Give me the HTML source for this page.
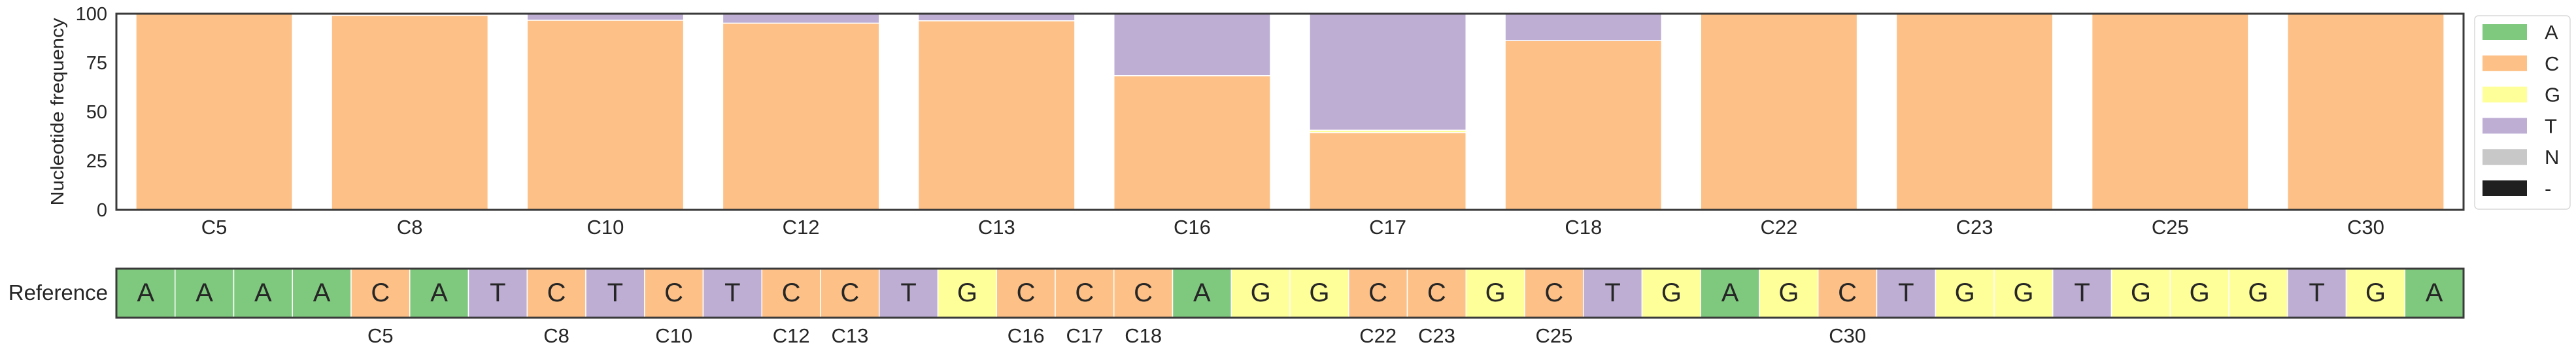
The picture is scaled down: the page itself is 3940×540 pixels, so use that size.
<!DOCTYPE html>
<html><head><meta charset="utf-8"><style>
html,body{margin:0;padding:0;background:#fff;}
svg{display:block;font-family:"Liberation Sans",Arial,sans-serif;}
</style></head><body>
<svg id="chart" width="3940" height="540" viewBox="0 0 3940 540" xmlns="http://www.w3.org/2000/svg">
<g id="bars"></g>
<g id="axes"></g>
<g id="ref"></g>
<g id="legend"></g>
</svg>
<script>
const categories = ["C5","C8","C10","C12","C13","C16","C17","C18","C22","C23","C25","C30"];
const valsA = [0,0,0,0,0,0,0,0,0,0,0,0];
const valsC = [100,99.2,96.7,95.2,96.4,68.4,39.4,86.3,100,100,100,100];
const valsG = [0,0,0,0,0,0,1.2,0,0,0,0,0];
const valsT = [0,0.8,3.3,4.8,3.6,31.6,59.4,13.7,0,0,0,0];
const valsN = [0,0,0,0,0,0,0,0,0,0,0,0];
const valsGap = [0,0,0,0,0,0,0,0,0,0,0,0];
const yTicks = [0,25,50,75,100];
const refSeq = ["A","A","A","A","C","A","T","C","T","C","T","C","C","T","G","C","C","C","A","G","G","C","C","G","C","T","G","A","G","C","T","G","G","T","G","G","G","T","G","A"];
const refPositions = [5,8,10,12,13,16,17,18,22,23,25,30];
const legendLabels = ["A","C","G","T","N","-"];

const colors = {A:"#7fc97f",C:"#fdc086",G:"#ffff99",T:"#beaed4",N:"#c8c8c8","-":"#1f1f1f"};
const series = [["A",valsA],["C",valsC],["G",valsG],["T",valsT],["N",valsN],["-",valsGap]];
const NS="http://www.w3.org/2000/svg";
const X0=178,X1=3768,Y0=321,Y1=21;
const slot=(X1-X0)/categories.length;
const xC=i=>X0+slot*(i+0.5);
const y=v=>Y0-(v/100)*(Y0-Y1);
function mk(tag,attrs,parent,text){const e=document.createElementNS(NS,tag);for(const k in attrs)e.setAttribute(k,attrs[k]);if(text!==undefined)e.textContent=text;parent.appendChild(e);return e;}
const gb=document.getElementById('bars'),ga=document.getElementById('axes'),gr=document.getElementById('ref'),gl=document.getElementById('legend');
categories.forEach((c,i)=>{
  let cum=0;const bw=slot*0.8;
  series.forEach(([nt,arr])=>{
    const v=arr[i];if(v<=0)return;
    const r=mk('rect',{x:xC(i)-bw/2,y:y(cum+v),width:bw,height:y(cum)-y(cum+v),fill:colors[nt],stroke:"#fff","stroke-width":1.5},gb);
    
    
    cum+=v;
  });
  const t=mk('text',{x:xC(i),y:358,"font-size":31,fill:"#262626","text-anchor":"middle"},ga,c);
  
  
});
const frame=mk('rect',{x:X0,y:Y1,width:X1-X0,height:Y0-Y1,fill:"none",stroke:"#3a3a3a","stroke-width":3},ga);


yTicks.forEach(v=>{
  const t=mk('text',{x:164,y:y(v)+10,"font-size":29,fill:"#262626","text-anchor":"end"},ga,String(v));
  
  
});
const yt=mk('text',{x:0,y:0,"font-size":28,fill:"#262626","text-anchor":"middle",textLength:287,lengthAdjust:"spacingAndGlyphs",transform:"translate(97,171) rotate(-90)"},ga,"Nucleotide frequency");


const RY0=411,RY1=486,cw=(X1-X0)/refSeq.length;
refSeq.forEach((nt,i)=>{
  const r=mk('rect',{x:X0+i*cw,y:RY0,width:cw,height:RY1-RY0,fill:colors[nt],stroke:"#fff","stroke-width":1.5},gr);
  
  
  const t=mk('text',{x:X0+(i+0.5)*cw,y:461,"font-size":40,fill:"#262626","text-anchor":"middle"},gr,nt);
  
  
});
const rf=mk('rect',{x:X0,y:RY0,width:X1-X0,height:RY1-RY0,fill:"none",stroke:"#3a3a3a","stroke-width":3},gr);


const rl=mk('text',{x:165,y:459,"font-size":33,fill:"#262626","text-anchor":"end"},gr,"Reference");


refPositions.forEach(p=>{
  const t=mk('text',{x:X0+(p-0.5)*cw,y:524,"font-size":31,fill:"#262626","text-anchor":"middle"},gr,"C"+p);
  
  
});
const lb=mk('rect',{x:3785,y:24,width:146,height:296,rx:6,fill:"#fff",stroke:"#d8d8d8","stroke-width":1.5},gl);


legendLabels.forEach((l,i)=>{
  const cy=49+i*47.8;
  const s=mk('rect',{x:3797,y:cy-12,width:68,height:24,fill:colors[l]},gl);
  
  
  const t=mk('text',{x:3892,y:cy+11,"font-size":31,fill:"#262626"},gl,l);
  
  
});
</script>
</body></html>
